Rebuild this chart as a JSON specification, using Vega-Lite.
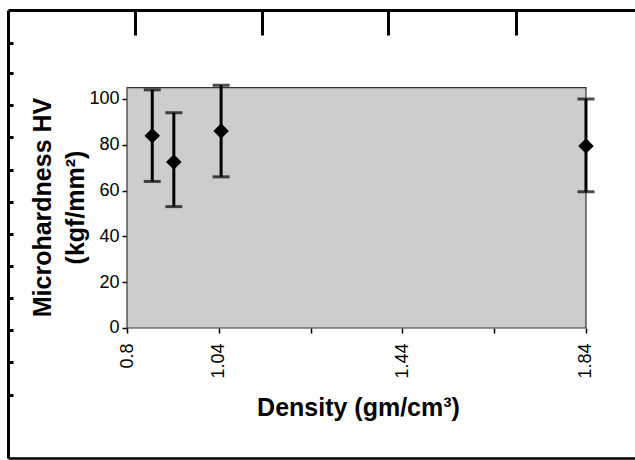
{
  "$schema": "https://vega.github.io/schema/vega-lite/v6.json",
  "width": 627,
  "height": 448,
  "autosize": {"type": "none"},
  "padding": {"left": 8, "top": 10, "right": 0, "bottom": 2},
  "background": "white",
  "config": {
    "view": {"stroke": null},
    "font": "Liberation Sans",
    "axis": {"labelFont": "Liberation Sans", "titleFont": "Liberation Sans", "grid": false, "labelColor": "black", "titleColor": "black", "tickColor": "black", "domainColor": "black"}
  },
  "datasets": {
    "frame": [{"fx": 0, "fy": 0}],
    "hv": [
      {"density": 0.895, "hv": 84, "lo": 64, "hi": 104},
      {"density": 0.942, "hv": 72.5, "lo": 53, "hi": 94},
      {"density": 1.045, "hv": 86, "lo": 66, "hi": 106},
      {"density": 1.84, "hv": 79.5, "lo": 59.5, "hi": 100}
    ]
  },
  "layer": [
    {
      "data": {"name": "frame"},
      "mark": {"type": "point", "opacity": 0},
      "encoding": {
        "x": {"field": "fx", "type": "quantitative", "scale": {"domain": [0, 627], "nice": false, "zero": false},
          "axis": {"orient": "top", "title": null, "labels": false, "values": [127, 254, 380, 508], "tickSize": -25, "tickWidth": 3, "domainWidth": 3}},
        "y": {"field": "fy", "type": "quantitative", "scale": {"domain": [0, 448], "nice": false, "zero": false, "reverse": true},
          "axis": {"orient": "left", "title": null, "labels": false, "values": [33, 63, 95, 127, 160, 192, 224, 256, 288, 320, 352, 385], "tickSize": -5, "tickWidth": 3, "domainWidth": 3}}
      }
    },
    {
      "data": {"name": "frame"},
      "mark": {"type": "point", "opacity": 0},
      "encoding": {
        "x": {"field": "fx", "type": "quantitative", "scale": {"domain": [0, 627], "nice": false, "zero": false},
          "axis": {"orient": "bottom", "title": null, "labels": false, "ticks": false, "domainWidth": 2.5}}
      }
    },
    {
      "layer": [
        {
          "data": {"values": [{}]},
          "mark": {"type": "rect", "fill": "#cdcdcd", "stroke": "#333333", "strokeWidth": 1.2},
          "encoding": {
            "x": {"datum": 0.84, "type": "quantitative"},
            "x2": {"datum": 1.84},
            "y": {"datum": 0, "type": "quantitative"},
            "y2": {"datum": 105}
          }
        },
        {
          "data": {"name": "hv"},
          "mark": {"type": "rule", "strokeWidth": 3, "color": "black"},
          "encoding": {
            "x": {"field": "density", "type": "quantitative", "scale": {"domain": [0.5807, 1.9468], "nice": false, "zero": false},
              "axis": {"orient": "bottom", "offset": -130, "title": "Density (gm/cm³)", "values": [0.84, 1.04, 1.24, 1.44, 1.64, 1.84],
                "labelExpr": "datum.value < 0.9 ? '0.8' : (abs(datum.value - 1.24) < 0.01 || abs(datum.value - 1.64) < 0.01) ? '' : format(datum.value, '.2f')",
                "labelAngle": 270, "labelFontSize": 18, "labelPadding": 10, "labelOverlap": false, "labelFlush": false,
                "tickSize": 5, "tickWidth": 1.5, "domain": false,
                "titleFontSize": 25, "titleFontWeight": "bold", "titleX": 350, "titleY": 87, "titleBaseline": "alphabetic", "titleAlign": "center"}},
            "y": {"field": "lo", "type": "quantitative", "scale": {"domain": [-56.77, 138.86], "nice": false, "zero": false},
              "axis": {"orient": "left", "offset": -119, "title": ["Microhardness HV", "(kgf/mm²)"], "values": [0, 20, 40, 60, 80, 100],
                "labelFontSize": 18, "labelPadding": 3, "labelOverlap": false, "labelFlush": false,
                "tickSize": 5, "tickWidth": 1.5, "domain": false,
                "titleFontSize": 25, "titleFontWeight": "bold", "titleX": -77, "titleY": 197, "titleBaseline": "alphabetic", "titleAlign": "center", "titleAngle": 270, "titleLineHeight": 33}},
            "y2": {"field": "hi"}
          }
        },
        {
          "data": {"name": "hv"},
          "mark": {"type": "tick", "orient": "horizontal", "size": 17, "thickness": 3, "color": "black"},
          "encoding": {
            "x": {"field": "density", "type": "quantitative"},
            "y": {"field": "lo", "type": "quantitative"}
          }
        },
        {
          "data": {"name": "hv"},
          "mark": {"type": "tick", "orient": "horizontal", "size": 17, "thickness": 3, "color": "black"},
          "encoding": {
            "x": {"field": "density", "type": "quantitative"},
            "y": {"field": "hi", "type": "quantitative"}
          }
        },
        {
          "data": {"name": "hv"},
          "mark": {"type": "point", "shape": "diamond", "filled": true, "size": 240, "color": "black", "opacity": 1},
          "encoding": {
            "x": {"field": "density", "type": "quantitative"},
            "y": {"field": "hv", "type": "quantitative"}
          }
        }
      ]
    }
  ],
  "resolve": {"scale": {"x": "independent", "y": "independent"}, "axis": {"x": "independent", "y": "independent"}}
}
